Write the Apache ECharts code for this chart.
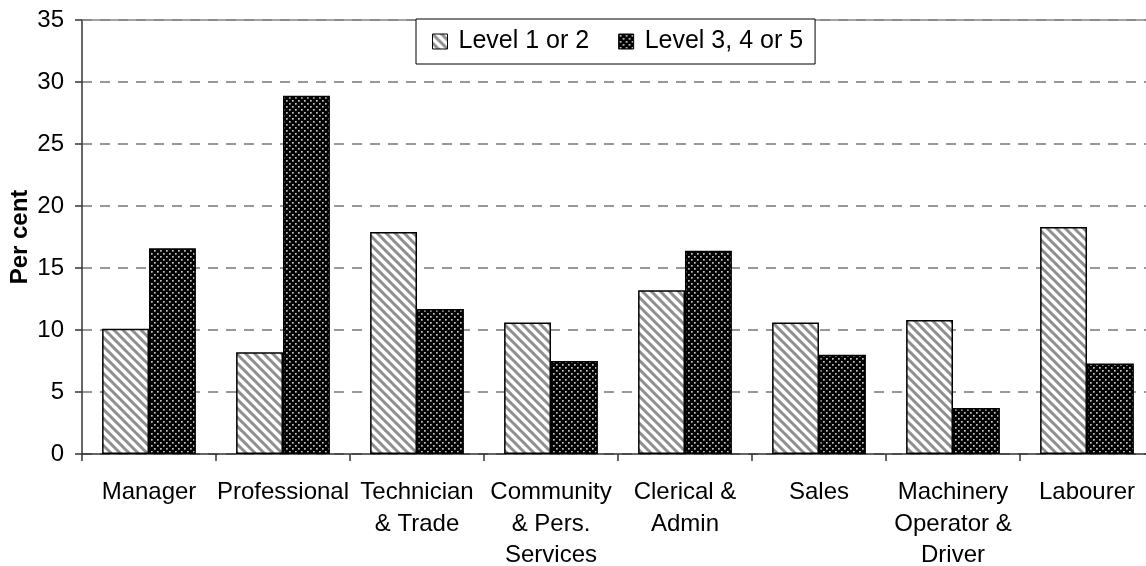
<!DOCTYPE html>
<html>
<head>
<meta charset="utf-8">
<script src="https://cdn.jsdelivr.net/npm/echarts@6/dist/echarts.min.js"></script>
<style>
html,body{margin:0;padding:0;background:#fff;}
#chart{width:1146px;height:566px;}
</style>
</head>
<body>
<div id="chart"></div>
<script>
const categories = ['Manager', 'Professional', 'Technician\n& Trade', 'Community\n& Pers.\nServices', 'Clerical &\nAdmin', 'Sales', 'Machinery\nOperator &\nDriver', 'Labourer'];
const level12 = [10.1, 8.2, 17.9, 10.6, 13.2, 10.6, 10.8, 18.3];
const level345 = [16.6, 28.9, 11.7, 7.5, 16.4, 8.0, 3.7, 7.3];
const yTicks = { min: 0, max: 35, interval: 5 };
const seriesNames = ['Level 1 or 2', 'Level 3, 4 or 5'];

function stripePattern() {
  const s = 9;
  const c = document.createElement('canvas');
  c.width = s; c.height = s;
  const g = c.getContext('2d');
  g.fillStyle = '#ffffff';
  g.fillRect(0, 0, s, s);
  g.strokeStyle = '#8f8f8f';
  g.lineWidth = 3;
  g.beginPath();
  for (let k = -1; k <= 1; k++) {
    g.moveTo(k * s - 2, -2);
    g.lineTo(k * s + s + 2, s + 2);
  }
  g.stroke();
  return c;
}
function dotPattern() {
  const s = 6;
  const c = document.createElement('canvas');
  c.width = s; c.height = s;
  const g = c.getContext('2d');
  g.fillStyle = '#000000';
  g.fillRect(0, 0, s, s);
  g.fillStyle = '#c4c4c4';
  g.fillRect(1, 1, 1.7, 1.7);
  g.fillRect(4, 4, 1.7, 1.7);
  return c;
}

const chart = echarts.init(document.getElementById('chart'));
const font = 'Liberation Sans, Arial, sans-serif';
chart.setOption({
  animation: false,
  backgroundColor: '#ffffff',
  textStyle: { fontFamily: font },
  grid: { left: 82, top: 20, bottom: 112, width: 1072, containLabel: false, outerBoundsMode: 'none' },
  legend: {
    data: seriesNames,
    left: 416,
    top: 19,
    padding: [10, 12, 10, 16],
    itemGap: 29,
    itemWidth: 15,
    itemHeight: 15,
    borderColor: '#000',
    borderWidth: 1,
    backgroundColor: '#fff',
    icon: 'rect',
    itemStyle: { borderColor: '#000', borderWidth: 1 },
    textStyle: { fontSize: 25, color: '#000', fontFamily: font, padding: [0, 0, 0, 6] }
  },
  xAxis: [{
    type: 'category',
    data: categories,
    axisLine: { lineStyle: { color: '#333', width: 1.5 } },
    axisTick: { show: true, length: 7, lineStyle: { color: '#333', width: 1.5 } },
    axisLabel: { fontSize: 24, color: '#000', lineHeight: 31.5, margin: 23, fontFamily: font, interval: 0 }
  }, {
    type: 'category',
    position: 'top',
    data: categories,
    axisLine: { show: true, lineStyle: { color: '#888', width: 1.5 } },
    axisTick: { show: false },
    axisLabel: { show: false }
  }],
  yAxis: {
    type: 'value',
    min: yTicks.min,
    max: yTicks.max,
    interval: yTicks.interval,
    name: 'Per cent',
    nameLocation: 'middle',
    nameGap: 50,
    nameMoveOverlap: false,
    nameTextStyle: { fontSize: 24, fontWeight: 'bold', color: '#000', fontFamily: font },
    axisLine: { show: true, lineStyle: { color: '#333', width: 1.5 } },
    axisTick: { show: true, length: 7, lineStyle: { color: '#333', width: 1.5 } },
    axisLabel: { fontSize: 24, color: '#000', margin: 18, fontFamily: font },
    splitLine: { show: true, lineStyle: { color: '#777', type: [10, 8], width: 1.5 } }
  },
  series: [{
    name: seriesNames[0],
    type: 'bar',
    data: level12,
    barGap: '0%',
    barCategoryGap: '30%',
    itemStyle: { color: { image: stripePattern(), repeat: 'repeat' }, borderColor: '#000', borderWidth: 1.5 }
  }, {
    name: seriesNames[1],
    type: 'bar',
    data: level345,
    barGap: '0%',
    barCategoryGap: '30%',
    itemStyle: { color: { image: dotPattern(), repeat: 'repeat' }, borderColor: '#000', borderWidth: 1.5 }
  }]
});
</script>
</body>
</html>
